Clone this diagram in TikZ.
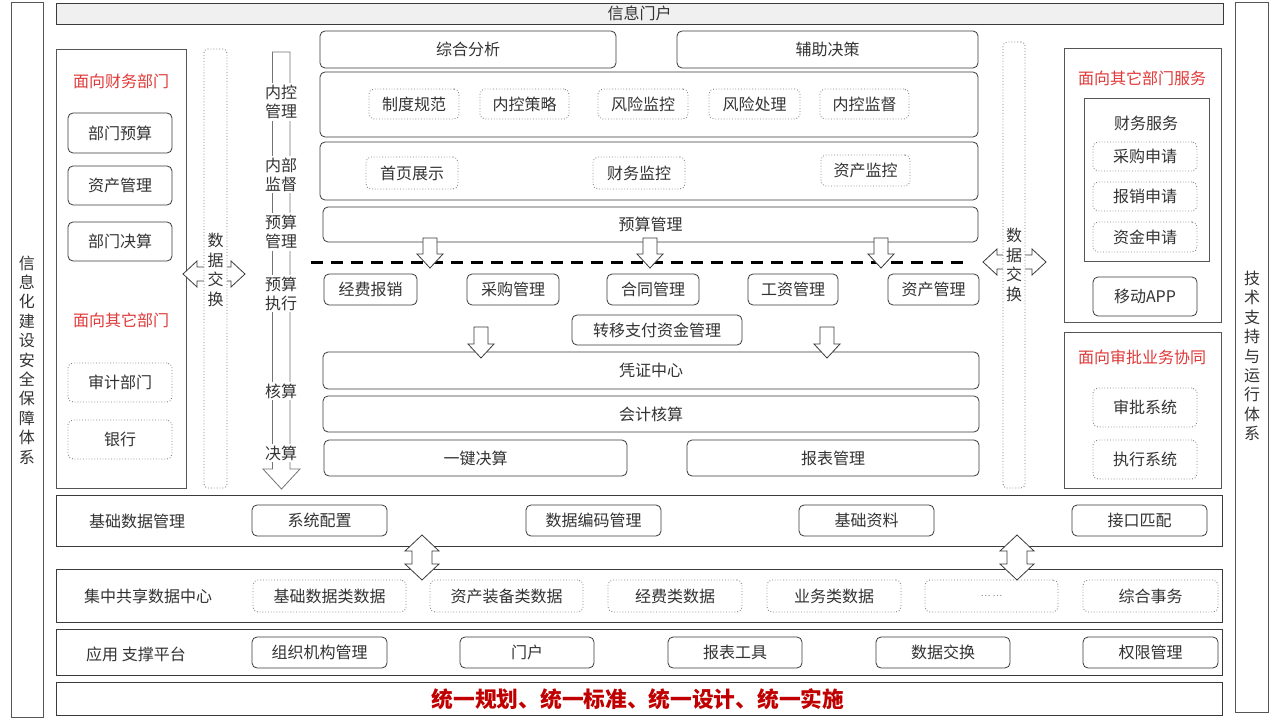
\documentclass[tikz,border=0pt]{standalone}
\usepackage{fontspec}
\setmainfont{Noto Sans CJK SC}
\definecolor{tc}{HTML}{333333}
\definecolor{bc}{HTML}{3A3A3A}
\definecolor{pc}{HTML}{555555}
\definecolor{redt}{HTML}{E03838}
\definecolor{redb}{HTML}{C00000}
\newcommand\rb[7]{%
  \pgfmathsetmacro\rbw{#5-#3}\pgfmathsetmacro\rbh{#6-#4}%
  \pgfmathsetmacro\rbx{(#3+#5)/2}\pgfmathsetmacro\rby{(#4+#6)/2}%
  \node[#1, minimum width=\rbw pt, minimum height=\rbh pt] (#2) at (\rbx,\rby) {#7};}
\newcommand\hdarrow[3]{%
  \draw[harrow] (#1,#3) -- ({#1+14},{#3-13}) -- ({#1+14},{#3-7}) -- ({#2-14},{#3-7}) -- ({#2-14},{#3-13}) -- (#2,#3)
   -- ({#2-14},{#3+13}) -- ({#2-14},{#3+7}) -- ({#1+14},{#3+7}) -- ({#1+14},{#3+13}) -- cycle;}
\newcommand\vdarrow[3]{%
  \draw[harrow] (#1,#2) -- ({#1+17},{#2+16}) -- ({#1+10},{#2+16}) -- ({#1+10},{#3-16}) -- ({#1+17},{#3-16}) -- (#1,#3)
   -- ({#1-17},{#3-16}) -- ({#1-10},{#3-16}) -- ({#1-10},{#2+16}) -- ({#1-17},{#2+16}) -- cycle;}
\newcommand\dnarrow[3]{%
  \draw[harrow] ({#1-7},#2) -- ({#1+7},#2) -- ({#1+7},{#3-14}) -- ({#1+13},{#3-14}) -- (#1,#3)
   -- ({#1-13},{#3-14}) -- ({#1-7},{#3-14}) -- cycle;}
\begin{document}
\begin{tikzpicture}[x=1pt,y=-1pt,
  txt/.style={text=tc, font=\fontsize{16}{19}\selectfont},
  sbox/.style={draw=bc, rounded corners=5pt, line width=0.8pt, fill=white, txt, inner sep=0pt},
  dbox/.style={sbox, draw=gray, dotted, line width=0.9pt},
  panel/.style={draw=pc, line width=0.9pt, inner sep=0pt},
  band/.style={draw=bc, line width=1pt, inner sep=0pt},
  dcol/.style={draw=gray, dotted, line width=0.9pt, rounded corners=4pt, fill=white, inner sep=0pt},
  vtxt/.style={txt, align=center, font=\fontsize{16}{19.4}\selectfont, inner sep=0pt},
  ptxt/.style={txt, align=center, font=\fontsize{16}{19}\selectfont, fill=white, inner sep=2pt},
  redtitle/.style={text=redt, font=\fontsize{16}{19}\selectfont, inner sep=0pt},
  lbl/.style={text=tc, font=\fontsize{16}{19}\selectfont, inner sep=0pt},
  harrow/.style={draw=bc, line width=0.8pt, fill=white, line join=miter},
  pcol/.style={draw=gray!90!black, line width=0.8pt}
]
\useasboundingbox (0,0) rectangle (1280,722);
\fill[white] (0,0) rectangle (1280,722);

% outer frames
\rb{panel}{lf}{11}{2}{43}{717}{}
\node[vtxt] (lft) at (27,360) {信\\息\\化\\建\\设\\安\\全\\保\\障\\体\\系};
\rb{panel}{rf}{1235}{2}{1268}{712}{}
\node[vtxt] (rft) at (1252,356) {技\\术\\支\\持\\与\\运\\行\\体\\系};

% top bar
\rb{panel, fill=gray!12, txt, draw=bc}{top}{56}{3}{1223}{24}{信息门户}

% left panel
\rb{panel}{lp}{56}{49}{186}{488}{}
\node[redtitle] (lpt1) at (121,81) {面向财务部门};
\rb{sbox}{b1}{68}{113}{172}{153}{部门预算}
\rb{sbox}{b2}{68}{166}{172}{205}{资产管理}
\rb{sbox}{b3}{68}{222}{172}{261}{部门决算}
\node[redtitle] (lpt2) at (121,320) {面向其它部门};
\rb{dbox}{b4}{68}{363}{172}{402}{审计部门}
\rb{dbox}{b5}{68}{420}{172}{459}{银行}

% left data exchange
\hdarrow{183}{245}{274}
\rb{dcol}{dl}{204}{49}{227}{488}{}
\node[vtxt] (dlt) at (215.5,270) {数\\据\\交\\换};

% process column
\draw[pcol] (272.5,52) -- (272.5,469) -- (263,469) -- (281.5,489) -- (300,469) -- (290,469) -- (290,52) -- cycle;
\node[ptxt] (p1) at (281,102) {内控\\管理};
\node[ptxt] (p2) at (281,174.5) {内部\\监督};
\node[ptxt] (p3) at (281,232) {预算\\管理};
\node[ptxt] (p4) at (281,293.5) {预算\\执行};
\node[ptxt] (p5) at (281,391) {核算};
\node[ptxt] (p6) at (281,453) {决算};

% middle column
\rb{sbox}{zh}{320}{31}{616}{68}{综合分析}
\rb{sbox}{fz}{677}{31}{978}{68}{辅助决策}
\rb{sbox}{nk}{320}{72}{978}{137}{}
\rb{dbox}{m1}{369}{89}{459}{119}{制度规范}
\rb{dbox}{m2}{480}{89}{569}{119}{内控策略}
\rb{dbox}{m3}{598}{89}{688}{119}{风险监控}
\rb{dbox}{m4}{709}{89}{800}{119}{风险处理}
\rb{dbox}{m5}{820}{89}{909}{119}{内控监督}
\rb{sbox}{sy}{320}{142}{978}{200}{}
\rb{dbox}{s1}{366}{157}{458}{189}{首页展示}
\rb{dbox}{s2}{593}{157}{685}{189}{财务监控}
\rb{dbox}{s3}{821}{155}{910}{186}{资产监控}
\rb{sbox}{ys}{323}{207}{978}{242}{预算管理}
\coordinate (dash1) at (311,263);
\coordinate (dash2) at (968,263);
\draw[line width=3pt, dash pattern=on 12pt off 8pt, black] (dash1) -- (dash2);
\dnarrow{430}{238}{268}
\dnarrow{650}{238}{268}
\dnarrow{881}{238}{268}
\rb{sbox}{r1}{324}{274}{417}{305}{经费报销}
\rb{sbox}{r2}{467}{274}{559}{305}{采购管理}
\rb{sbox}{r3}{607}{274}{699}{305}{合同管理}
\rb{sbox}{r4}{748}{274}{838}{305}{工资管理}
\rb{sbox}{r5}{888}{274}{979}{305}{资产管理}
\rb{sbox}{zy}{572}{315}{742}{345}{转移支付资金管理}
\rb{sbox}{pz}{323}{352}{979}{389}{凭证中心}
\dnarrow{481}{327}{358}
\dnarrow{827}{327}{358}
\rb{sbox}{kj}{323}{396}{979}{432}{会计核算}
\rb{sbox}{yj}{324}{440}{627}{476}{一键决算}
\rb{sbox}{bb}{687}{440}{979}{476}{报表管理}

% right data exchange
\hdarrow{983}{1046}{262}
\rb{dcol}{dr}{1003}{42}{1025}{488}{}
\node[vtxt] (drt) at (1014,265) {数\\据\\交\\换};

% right panels
\rb{panel}{rp1}{1064}{48}{1221}{322}{}
\node[redtitle] (rpt1) at (1142,78) {面向其它部门服务};
\rb{panel}{rp1i}{1084}{98}{1209}{261}{}
\node[lbl] (cwfw) at (1146,123) {财务服务};
\rb{dbox}{q1}{1093}{142}{1197}{171}{采购申请}
\rb{dbox}{q2}{1093}{182}{1197}{211}{报销申请}
\rb{dbox}{q3}{1093}{222}{1197}{252}{资金申请}
\rb{sbox}{app}{1093}{277}{1197}{316}{移动APP}
\rb{panel}{rp2}{1064}{332}{1221}{488}{}
\node[redtitle] (rpt2) at (1142,357) {面向审批业务协同};
\rb{dbox}{q4}{1093}{388}{1197}{427}{审批系统}
\rb{dbox}{q5}{1093}{440}{1197}{479}{执行系统}

% bands
\rb{band}{bd1}{56}{495}{1222}{546}{}
\node[lbl] (bd1t) at (137,521) {基础数据管理};
\rb{sbox}{c1}{252}{505}{387}{536}{系统配置}
\rb{sbox}{c2}{526}{505}{661}{536}{数据编码管理}
\rb{sbox}{c3}{799}{505}{934}{536}{基础资料}
\rb{sbox}{c4}{1072}{505}{1207}{536}{接口匹配}

\rb{band}{bd2}{56}{569}{1222}{622}{}
\node[lbl] (bd2t) at (148,596) {集中共享数据中心};
\rb{dbox}{d1}{253}{580}{406}{612}{基础数据类数据}
\rb{dbox}{d2}{430}{580}{583}{612}{资产装备类数据}
\rb{dbox}{d3}{608}{580}{742}{612}{经费类数据}
\rb{dbox}{d4}{767}{580}{901}{612}{业务类数据}
\rb{dbox, font=\fontsize{9}{10}\selectfont, text=gray}{d5}{925}{580}{1058}{612}{… …}
\rb{dbox}{d6}{1083}{580}{1218}{612}{综合事务}

\vdarrow{422}{535}{580}
\vdarrow{1017}{535}{580}

\rb{band}{bd3}{56}{629}{1222}{675}{}
\node[lbl] (bd3t) at (136,654) {应用 支撑平台};
\rb{sbox}{e1}{252}{637}{387}{668}{组织机构管理}
\rb{sbox}{e2}{460}{637}{594}{668}{门户}
\rb{sbox}{e3}{668}{637}{802}{668}{报表工具}
\rb{sbox}{e4}{876}{637}{1010}{668}{数据交换}
\rb{sbox}{e5}{1083}{637}{1218}{668}{权限管理}

\rb{band}{bd4}{56}{682}{1222}{715}{}
\node[text=redb, font=\fontsize{21.7}{24}\bfseries, inner sep=0pt] (slogan) at (638,699) {统一规划、统一标准、统一设计、统一实施};
\end{tikzpicture}
\end{document}
